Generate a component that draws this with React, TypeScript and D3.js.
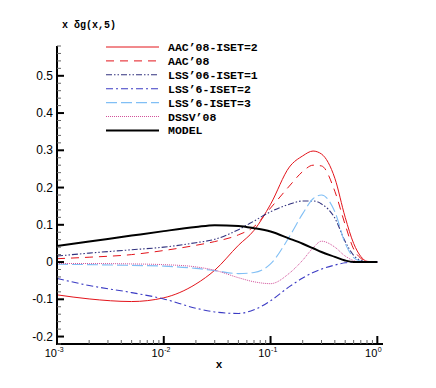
import React from "react";
import * as d3 from "d3";

// x grid shared by every curve
const xs = [0.001, 0.002, 0.005, 0.01, 0.02, 0.03, 0.05, 0.07, 0.1, 0.15, 0.2, 0.25, 0.3, 0.4, 0.5, 0.6, 0.7, 0.8, 1.0];

const aacIset2 = [-0.088, -0.099, -0.106, -0.096, -0.059, -0.022, 0.045, 0.085, 0.155, 0.255, 0.285, 0.298, 0.29, 0.225, 0.12, 0.05, 0.015, 0.002, 0];
const aac08 = [0.009, 0.013, 0.02, 0.031, 0.045, 0.055, 0.073, 0.095, 0.145, 0.204, 0.243, 0.26, 0.258, 0.19, 0.1, 0.035, 0.01, 0.001, 0];
const lss06Iset1 = [0.016, 0.024, 0.033, 0.04, 0.052, 0.061, 0.087, 0.11, 0.135, 0.155, 0.164, 0.164, 0.156, 0.118, 0.055, 0.018, 0.004, 0, 0];
const lss6Iset2 = [-0.044, -0.063, -0.082, -0.099, -0.124, -0.134, -0.138, -0.128, -0.104, -0.066, -0.043, -0.028, -0.019, -0.008, -0.002, 0, 0, 0, 0];
const lss6Iset3 = [-0.006, -0.007, -0.009, -0.011, -0.017, -0.023, -0.031, -0.028, -0.005, 0.068, 0.13, 0.17, 0.18, 0.135, 0.05, 0.012, 0.002, 0, 0];
const dssv08 = [-0.004, -0.004, -0.005, -0.007, -0.013, -0.022, -0.042, -0.053, -0.058, -0.03, 0.005, 0.038, 0.056, 0.04, 0.016, 0.004, 0, 0, 0];
const model = [0.043, 0.055, 0.071, 0.083, 0.094, 0.099, 0.097, 0.091, 0.082, 0.063, 0.049, 0.037, 0.027, 0.014, 0.004, 0, 0, 0, 0];

const seriesNames = ["AAC\u201908-ISET=2", "AAC\u201908", "LSS\u201906-ISET=1", "LSS\u20196-ISET=2", "LSS\u20196-ISET=3", "DSSV\u201908", "MODEL"];
const seriesValues = [aacIset2, aac08, lss06Iset1, lss6Iset2, lss6Iset3, dssv08, model];
const seriesColors = ["#e3141b", "#e3141b", "#33337f", "#3b3bc4", "#80bff5", "#d2509a", "#000000"];
const seriesDash = ["", "8,6", "6,2,1.5,2,1.5,2", "7,3,2,3", "11,4", "1,1", ""];
const seriesWidth = [1, 1, 1.1, 1.1, 1.1, 1, 2];

const yMajor = [-0.2, -0.1, 0, 0.1, 0.2, 0.3, 0.4, 0.5];
const yTickLabels = ["-0.2", "-0.1", "0", "0.1", "0.2", "0.3", "0.4", "0.5"];
const xMajor = [0.001, 0.01, 0.1, 1];
const xExp = ["-3", "-2", "-1", "0"];

const W = 436;
const H = 388;

export default function App() {
  const x = d3.scaleLog().domain([1e-3, 1.13]).range([57, 383]);
  const y = d3.scaleLinear().domain([-0.22, 0.58]).range([344, 46]);

  const line = d3
    .line<[number, number]>()
    .x((d) => x(d[0]))
    .y((d) => y(d[1]))
    .curve(d3.curveMonotoneX);

  // minor ticks
  const yMinor = d3.range(-22, 59, 2).map((v) => v / 100).filter((v) => Math.abs(Math.round(v * 10) - v * 10) > 1e-6);
  const xMinor: number[] = [];
  [0.001, 0.01, 0.1].forEach((dec) => {
    for (let k = 2; k <= 9; k++) xMinor.push(dec * k);
  });

  const legendTop = 47;
  const legendStep = 13.9;

  return (
    <svg width={W} height={H} style={{ position: "absolute", left: 0, top: 0, background: "#fff" }}>
      {/* curves */}
      {seriesValues.map((vals, i) => (
        <path
          key={seriesNames[i]}
          d={line(xs.map((v, j) => [v, vals[j]] as [number, number])) || ""}
          fill="none"
          stroke={seriesColors[i]}
          strokeWidth={seriesWidth[i]}
          strokeDasharray={seriesDash[i] || undefined}
        />
      ))}

      {/* axes */}
      <line x1={57} x2={57} y1={y(0.58)} y2={344} stroke="#000" strokeWidth={2} />
      <line x1={56} x2={383} y1={344} y2={344} stroke="#000" strokeWidth={2} />
      {yMinor.map((v) => (
        <line key={"ym" + v} x1={57} x2={61} y1={y(v)} y2={y(v)} stroke="#666" strokeWidth={1} />
      ))}
      {yMajor.map((v, i) => (
        <g key={"yM" + v}>
          <line x1={57} x2={64} y1={y(v)} y2={y(v)} stroke="#000" strokeWidth={2} />
          <text x={53} y={y(v) + 4} textAnchor="end" fontFamily="Liberation Sans, Arial, sans-serif" fontSize={12} fill="#000">
            {yTickLabels[i]}
          </text>
        </g>
      ))}
      {xMinor.map((v) => (
        <line key={"xm" + v} x1={x(v)} x2={x(v)} y1={344} y2={340} stroke="#666" strokeWidth={1} />
      ))}
      {xMajor.map((v, i) => (
        <g key={"xM" + v}>
          <line x1={x(v)} x2={x(v)} y1={344} y2={336} stroke="#000" strokeWidth={2} />
          <text x={x(v)} y={357} textAnchor="end" fontFamily="Liberation Sans, Arial, sans-serif" fontSize={11} fill="#000">
            10
          </text>
          <text x={x(v) + 0.5} y={352} fontFamily="Liberation Sans, Arial, sans-serif" fontSize={7} fill="#000">
            {xExp[i]}
          </text>
        </g>
      ))}

      {/* axis titles */}
      <text x={62} y={28} fontFamily="Liberation Mono, Courier New, monospace" fontWeight="bold" fontSize={10} fill="#000">
        x {"\u03b4"}g(x,5)
      </text>
      <text x={219} y={368} textAnchor="middle" fontFamily="Liberation Mono, Courier New, monospace" fontWeight="bold" fontSize={11} fill="#000">
        x
      </text>

      {/* legend */}
      {seriesNames.map((name, i) => {
        const ly = legendTop + i * legendStep;
        return (
          <g key={"lg" + name}>
            <line
              x1={106}
              x2={159}
              y1={ly}
              y2={ly}
              stroke={seriesColors[i]}
              strokeWidth={seriesWidth[i]}
              strokeDasharray={seriesDash[i] || undefined}
            />
            <text x={168} y={ly + 4} fontFamily="Liberation Mono, Courier New, monospace" fontWeight="bold" fontSize={11.5} fill="#000">
              {name}
            </text>
          </g>
        );
      })}
    </svg>
  );
}
